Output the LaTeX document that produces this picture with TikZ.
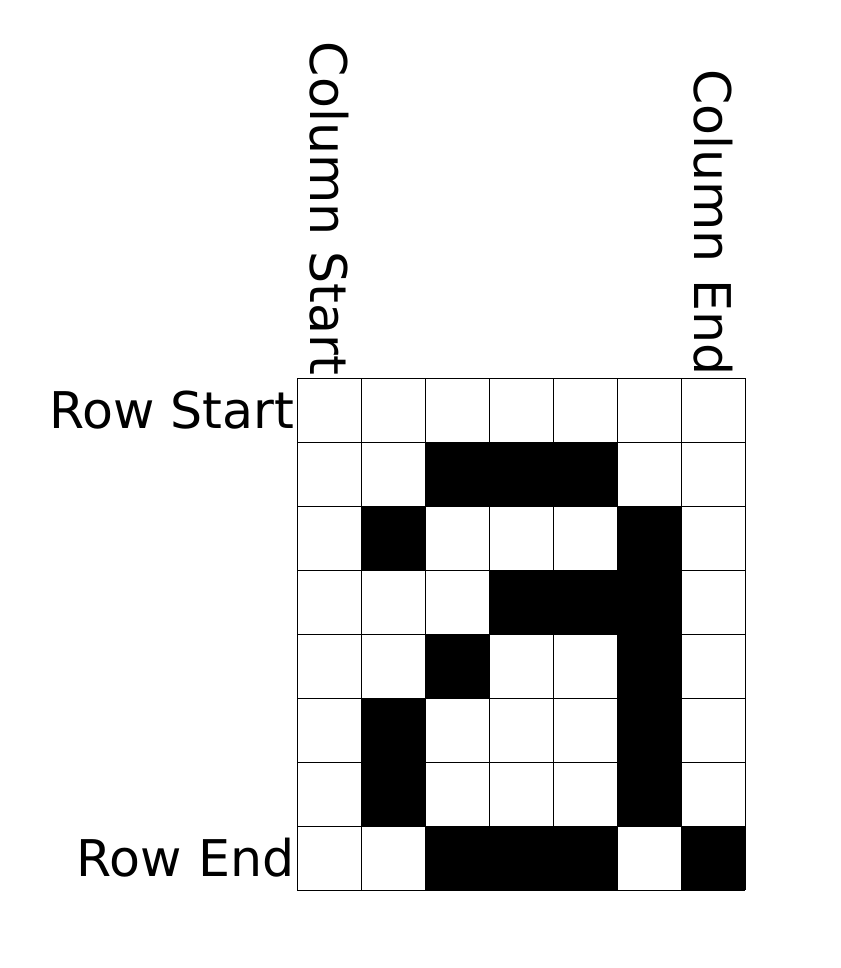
\documentclass[tikz,border=0pt]{standalone}
\usepackage{fontspec}
\setmainfont{DejaVu Sans}
\tikzset{lbl/.style={inner sep=1pt, font=\fontsize{22.5}{27}\selectfont}}
\begin{document}
\begin{tikzpicture}[x=1cm,y=1cm]
	\useasboundingbox (0,0) rectangle (13.125,15.125);
	\begin{scope}[shift={(4.640625,1.21875)}]
		% Black cells (column/row counted from the top left)
		\foreach \c/\r in {2/1,3/1,4/1, 1/2,5/2, 3/3,4/3,5/3, 2/4,5/4, 1/5,5/5, 1/6,5/6, 2/7,3/7,4/7,6/7}
		\fill (\c,8-\r) rectangle ++(1,-1);

		% The grid
		\draw[thin] (0,0) grid (7,8);

		% Labels for rows
		\node[lbl, anchor=east] (rowstart) at (0,7.5) {Row Start};
		\node[lbl, anchor=east] (rowend) at (0,0.5) {Row End};

		% Labels for columns
		\node[lbl, rotate=-90, anchor=east] (colstart) at (0.5,8) {Column Start};
		\node[lbl, rotate=-90, anchor=east] (colend) at (6.5,8) {Column End};
	\end{scope}
\end{tikzpicture}
\end{document}
